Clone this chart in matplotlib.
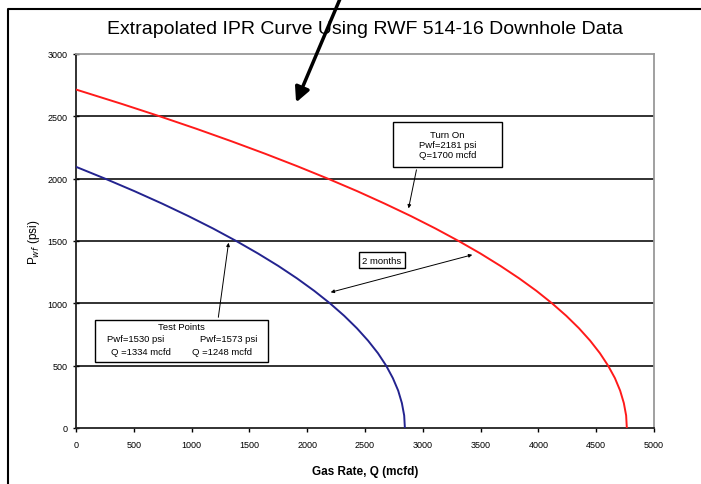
import numpy as np
import matplotlib
matplotlib.use("Agg")
import matplotlib.pyplot as plt
from matplotlib.lines import Line2D
from matplotlib.patches import FancyArrowPatch, Rectangle

plt.rcParams['font.family'] = ['Liberation Sans', 'DejaVu Sans']

# values: flowing pressure (psi) vs gas rate (mcfd)
turn_on_p = [2715, 2600, 2500, 2400, 2300, 2200, 2100, 2000, 1900, 1800, 1700, 1600, 1500, 1400,
             1300, 1200, 1100, 1000, 900, 800, 700, 600, 500, 400, 300, 200, 100, 0]
turn_on_q = [0, 395, 725, 1042, 1345, 1636, 1914, 2179, 2432, 2670, 2897, 3110, 3310, 3498,
             3672, 3834, 3983, 4118, 4241, 4351, 4448, 4532, 4603, 4662, 4707, 4739, 4759, 4765]

test_p = [2095, 2000, 1900, 1800, 1700, 1600, 1500, 1400, 1300, 1200, 1100, 1000, 900, 800,
          700, 600, 500, 400, 300, 200, 100, 0]
test_q = [0, 252, 505, 745, 972, 1186, 1386, 1574, 1750, 1912, 2061, 2197, 2320, 2430,
          2527, 2612, 2683, 2741, 2787, 2819, 2839, 2845]

x_ticks = np.arange(0, 5001, 500)
y_ticks = np.arange(0, 3001, 500)

W, H = 701, 485
fig = plt.figure(figsize=(W / 100, H / 100), dpi=100)
ax = fig.add_axes([76 / W, 1 - 429 / H, 578 / W, 374 / H])

for yv in y_ticks[1:-1]:
    ax.axhline(yv, color='#222222', lw=1.3, zorder=1)

ax.plot(turn_on_q, turn_on_p, color='#ff1a1a', lw=1.4, zorder=3)
ax.plot(test_q, test_p, color='#23238f', lw=1.4, zorder=3)

ax.set_xlim(0, 5000)
ax.set_ylim(0, 3000)
ax.set_xticks(x_ticks)
ax.set_yticks(y_ticks)
ax.tick_params(axis='x', direction='out', length=3, width=1, labelsize=6.5, pad=6)
ax.tick_params(axis='y', direction='inout', length=4, width=1, labelsize=6.5, pad=4)
for s in ['left', 'bottom']:
    ax.spines[s].set_color('#222222')
    ax.spines[s].set_linewidth(1.3)
for s in ['top', 'right']:
    ax.spines[s].set_color('#999999')
    ax.spines[s].set_linewidth(1.3)

ax.set_xlabel('Gas Rate, Q (mcfd)', fontsize=8.5, fontweight='bold', labelpad=11)
ax.set_ylabel('P$_{wf}$ (psi)', fontsize=8.5)
ax.yaxis.set_label_coords(-0.058, 0.5)

fig.text(365 / W, 1 - 30 / H, 'Extrapolated IPR Curve Using RWF 514-16 Downhole Data',
         ha='center', va='center', fontsize=14)

arr = dict(arrowstyle='-|>', color='black', lw=0.7, mutation_scale=5)

# "Turn On" callout
ax.annotate('', xy=(2872, 1740), xytext=(2950, 2093), arrowprops=arr, zorder=4)
ax.add_patch(Rectangle((2742, 2093), 943, 361, fc='white', ec='black', lw=1, zorder=5))
ax.text(3213, 2274, 'Turn On\nPwf=2181 psi\nQ=1700 mcfd', ha='center', va='center',
        fontsize=6.8, linespacing=1.2, zorder=6)

# "2 months" callout
ax.annotate('', xy=(2180, 1083), xytext=(3451, 1395),
            arrowprops=dict(arrowstyle='<|-|>', color='black', lw=0.7, mutation_scale=5), zorder=5)
ax.text(2647, 1347, '2 months', ha='center', va='center', fontsize=6.8,
        bbox=dict(boxstyle='square,pad=0.35', fc='white', ec='black', lw=1), zorder=5)

# "Test Points" callout
ax.annotate('', xy=(1323, 1508), xytext=(1228, 866), arrowprops=arr, zorder=4)
ax.add_patch(Rectangle((164, 529), 1497, 337, fc='white', ec='black', lw=1, zorder=5))
ax.text(913, 818, 'Test Points', ha='center', va='center', fontsize=6.8, zorder=6)
ax.text(515, 714, 'Pwf=1530 psi', ha='center', va='center', fontsize=6.8, zorder=6)
ax.text(562, 610, 'Q =1334 mcfd', ha='center', va='center', fontsize=6.8, zorder=6)
ax.text(1323, 714, 'Pwf=1573 psi', ha='center', va='center', fontsize=6.8, zorder=6)
ax.text(1267, 610, 'Q =1248 mcfd', ha='center', va='center', fontsize=6.8, zorder=6)

# outer frame of the pasted chart
fig.add_artist(Line2D([8 / W, 8 / W, 1], [0, 1 - 10 / H, 1 - 10 / H],
                      transform=fig.transFigure, color='black', lw=1.5))

# big pointer arrow
fig.add_artist(FancyArrowPatch((342 / W, 1.01), (295 / W, 1 - 106 / H),
                               transform=fig.transFigure, arrowstyle='-|>',
                               mutation_scale=22, lw=2.5, color='black'))

fig.savefig('out.png', dpi=100)
